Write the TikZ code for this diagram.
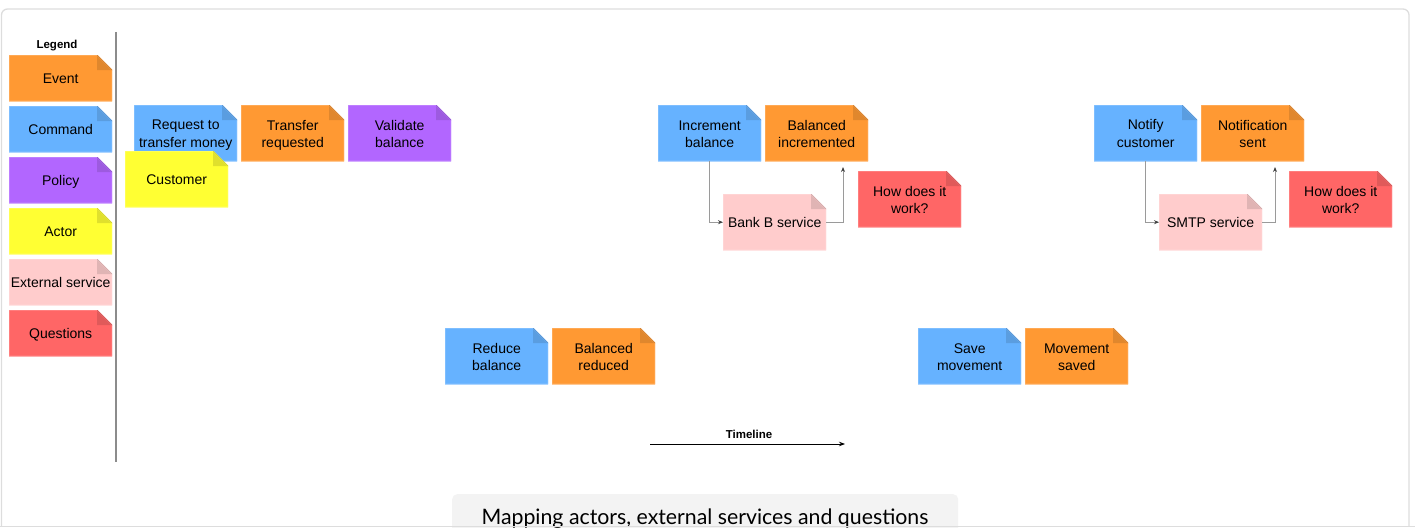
\documentclass[tikz,border=0pt]{standalone}
\usepackage{fontspec}
\setmainfont{Liberation Sans}
\newfontfamily\capfont{Lato}
\usetikzlibrary{arrows.meta}
\definecolor{evt}{HTML}{FF9933}
\definecolor{cmd}{HTML}{66B2FF}
\definecolor{pol}{HTML}{B266FF}
\definecolor{act}{HTML}{FFFF33}
\definecolor{ext}{HTML}{FFCCCC}
\definecolor{qst}{HTML}{FF6666}
\definecolor{framegray}{HTML}{DDDDDD}
\definecolor{capbg}{HTML}{F3F3F3}
\definecolor{linkgray}{HTML}{9A9A9A}
\newcommand\nstrut{\rule[-2.8pt]{0pt}{17pt}}
\tikzset{
  sticky/.style={minimum width=103pt, minimum height=56pt, inner sep=1pt, align=center,
    font=\fontsize{14}{17}\selectfont, text=black, anchor=north west,
    path picture={
      \fill[#1] (path picture bounding box.south west) -- (path picture bounding box.north west)
        -- ([xshift=-15pt]path picture bounding box.north east)
        -- ([yshift=-15pt]path picture bounding box.north east)
        -- (path picture bounding box.south east) -- cycle;
      \fill[#1!88!black] ([xshift=-15pt]path picture bounding box.north east)
        -- ([xshift=-15pt,yshift=-15pt]path picture bounding box.north east)
        -- ([yshift=-15pt]path picture bounding box.north east) -- cycle;
      \draw[#1!75!white, line width=1pt] (path picture bounding box.south west) -- (path picture bounding box.north west)
        -- ([xshift=-15pt]path picture bounding box.north east)
        -- ([yshift=-15pt]path picture bounding box.north east)
        -- (path picture bounding box.south east) -- cycle;
      \draw[#1!80!black, line width=0.5pt] ([xshift=-15pt]path picture bounding box.north east)
        -- ([yshift=-15pt]path picture bounding box.north east);
    }},
  legendnote/.style={sticky=#1, minimum height=46pt},
  link/.style={draw=linkgray, line width=0.9pt, -{Stealth[length=5pt,width=4pt,color=black!75]}},
  smalllabel/.style={font=\bfseries\fontsize{11.5}{13}\selectfont}
}
\begin{document}
\begin{tikzpicture}[x=1pt,y=-1pt]
\useasboundingbox (0,0) rectangle (1415,527);
% caption box
\node[fill=capbg, rounded corners=5pt, minimum width=506pt, minimum height=40pt, anchor=north west, inner sep=0pt] (capbox) at (452,494) {};
\node[font=\capfont\fontsize{21.3}{25}\selectfont, anchor=base] (caption) at (705,524) {Mapping actors, external services and questions};
% frame
\draw[framegray, line width=1.3pt, rounded corners=6pt] (1.5,526) -- (1.5,9) -- (1409,9) -- (1409,526);
\draw[framegray, line width=1.3pt] (0,526.3) -- (1415,526.3);
% legend
\node[smalllabel] (legendtitle) at (57,46) {Legend};
\node[legendnote=evt] (l1) at (9,55) {Event\nstrut};
\node[legendnote=cmd] (l2) at (9,106) {Command\nstrut};
\node[legendnote=pol] (l3) at (9,157) {Policy\nstrut};
\node[legendnote=act] (l4) at (9,208) {Actor\nstrut};
\node[legendnote=ext] (l5) at (9,259) {External service\nstrut};
\node[legendnote=qst] (l6) at (9,310) {Questions\nstrut};
\coordinate (divtop) at (116,32);
\coordinate (divbot) at (116,462);
\draw[black!45, line width=1.2pt] (divtop) -- (divbot);
% first group
\node[sticky=cmd] (req) at (134,105) {Request to\nstrut\\transfer money\nstrut};
\node[sticky=evt] (treq) at (241,105) {Transfer\nstrut\\requested\nstrut};
\node[sticky=pol] (val) at (348,105) {Validate\nstrut\\balance\nstrut};
\node[sticky=act] (cust) at (125,151) {Customer\nstrut};
% second group
\node[sticky=cmd] (inc) at (658,105) {Increment\nstrut\\balance\nstrut};
\node[sticky=evt] (binc) at (765,105) {Balanced\nstrut\\incremented\nstrut};
\node[sticky=ext] (bankb) at (723,194) {Bank B service\nstrut};
\node[sticky=qst] (q1) at (858,171) {How does it\nstrut\\work?\nstrut};
\coordinate (bincin) at (843,167);
\draw[link] (inc.south) |- (bankb.west);
\draw[link] (bankb.east) -| (bincin);
% third group
\node[sticky=cmd] (notif) at (1094,105) {Notify\nstrut\\customer\nstrut};
\node[sticky=evt] (nsent) at (1201,105) {Notification\nstrut\\sent\nstrut};
\node[sticky=ext] (smtp) at (1159,194) {SMTP service\nstrut};
\node[sticky=qst] (q2) at (1289,171) {How does it\nstrut\\work?\nstrut};
\coordinate (nsentin) at (1275,167);
\draw[link] (notif.south) |- (smtp.west);
\draw[link] (smtp.east) -| (nsentin);
% bottom groups
\node[sticky=cmd] (red) at (445,328) {Reduce\nstrut\\balance\nstrut};
\node[sticky=evt] (bred) at (552,328) {Balanced\nstrut\\reduced\nstrut};
\node[sticky=cmd] (save) at (918,328) {Save\nstrut\\movement\nstrut};
\node[sticky=evt] (msaved) at (1025,328) {Movement\nstrut\\saved\nstrut};
% timeline
\coordinate (tl0) at (650,444);
\coordinate (tl1) at (845,444);
\draw[black, line width=0.9pt, -{Stealth[length=6pt,width=4.5pt]}] (tl0) -- (tl1);
\node[smalllabel] (tllabel) at (749,434) {Timeline};
\end{tikzpicture}
\end{document}
